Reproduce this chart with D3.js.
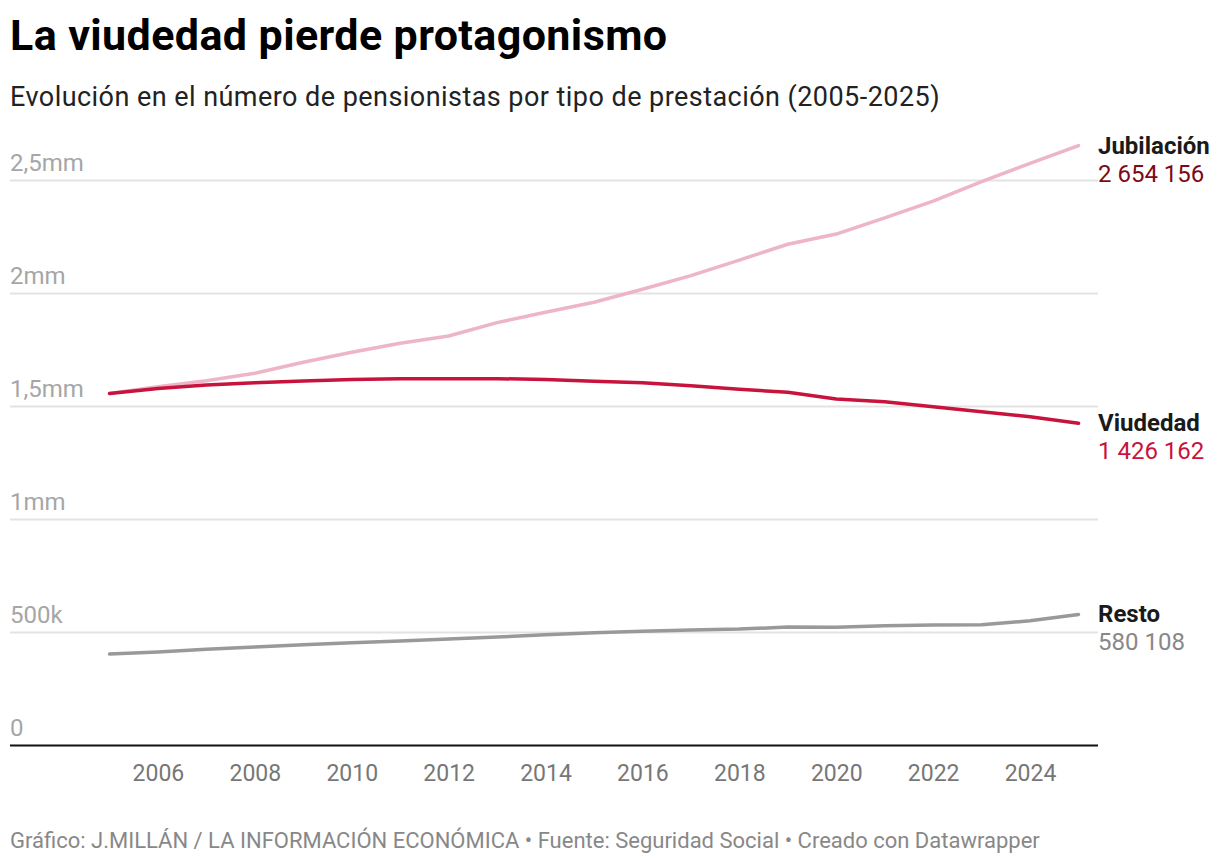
<!DOCTYPE html>
<html>
<head>
<meta charset="utf-8">
<script src="https://cdn.jsdelivr.net/npm/d3@7"></script>
<style>
  body { margin: 0; background: #fff; font-family: Roboto, sans-serif; }
  .title { font-weight: 700; fill: #000; }
  .grid line { stroke: #e3e3e3; stroke-width: 2px; }
  .ylab { fill: #a6a6a6; }
  .xaxis text { fill: #777; }
  .xaxis path, .xaxis line { display: none; }
</style>
</head>
<body>
<div id="chart"></div>
<script>
/**
 * Data
 */
// years on the x axis
var years = [2005, 2006, 2007, 2008, 2009, 2010, 2011, 2012, 2013, 2014, 2015,
  2016, 2017, 2018, 2019, 2020, 2021, 2022, 2023, 2024, 2025];
// pensionistas de jubilación
var jubilacion = [1558000, 1588000, 1614000, 1647000, 1696000, 1740000, 1780000, 1812000, 1871000, 1917000, 1961000,
  2019000, 2079000, 2148000, 2218000, 2263000, 2335000, 2409000, 2495000, 2576000, 2654156];
// pensionistas de viudedad
var viudedad = [1558000, 1580000, 1595000, 1605000, 1613000, 1619000, 1623000, 1623000, 1623000, 1620000, 1612000,
  1605000, 1592000, 1576000, 1563000, 1533000, 1521000, 1499000, 1477000, 1455000, 1426162];
// resto de prestaciones
var resto = [405000, 414000, 426000, 436000, 446000, 455000, 462000, 471000, 480000, 490000, 499000,
  505000, 511000, 515000, 524000, 523000, 530000, 533000, 534000, 552000, 580108];
// y axis ticks and labels
var yTicks = [0, 500000, 1000000, 1500000, 2000000, 2500000];
var yTickLabels = ["0", "500k", "1mm", "1,5mm", "2mm", "2,5mm"];
// x axis ticks
var xTicks = [2006, 2008, 2010, 2012, 2014, 2016, 2018, 2020, 2022, 2024];
// series names and end labels
var seriesNames = ["Jubilación", "Viudedad", "Resto"];
var seriesLabels = ["2 654 156", "1 426 162", "580 108"];

/**
 * Chart setup
 */
var svgWidth = 1220;
var svgHeight = 862;

var svg = d3.select("#chart")
  .append("svg")
  .attr("width", svgWidth)
  .attr("height", svgHeight);

// title and subtitle
svg.append("text")
  .attr("class", "title")
  .attr("x", 10)
  .attr("y", 50)
  .style("font-size", "43px")
  .style("letter-spacing", "0.4px")
  .text("La viudedad pierde protagonismo");

svg.append("text")
  .attr("x", 10)
  .attr("y", 106)
  .style("font-size", "27px")
  .style("letter-spacing", "0.45px")
  .style("fill", "#222")
  .text("Evolución en el número de pensionistas por tipo de prestación (2005-2025)");

// scales
var xScale = d3.scaleLinear()
  .domain([2005, 2025])
  .range([109.5, 1078.5]);

var yScale = d3.scaleLinear()
  .domain([0, 2500000])
  .range([745.5, 180.5]);

// gridlines
var grid = svg.append("g").attr("class", "grid");
grid.selectAll("line")
  .data(yTicks.filter(d => d > 0))
  .enter().append("line")
  .attr("x1", 10)
  .attr("x2", 1098)
  .attr("y1", d => yScale(d))
  .attr("y2", d => yScale(d));

// y labels sit above the gridlines
svg.selectAll(".ylab")
  .data(yTicks)
  .enter().append("text")
  .attr("class", "ylab")
  .attr("x", 10)
  .attr("y", d => yScale(d) - 10)
  .style("font-size", "24px")
  .text((d, i) => yTickLabels[i]);

// x axis
var xAxis = d3.axisBottom(xScale)
  .tickValues(xTicks)
  .tickFormat(d3.format("d"))
  .tickSize(0)
  .tickPadding(19);

var xAxisGroup = svg.append("g")
  .attr("class", "xaxis")
  .attr("transform", `translate(0, ${yScale(0)})`)
  .call(xAxis);
xAxisGroup.selectAll("text")
  .style("font-size", "23px")
  .style("font-family", "Roboto, sans-serif");

// baseline
svg.append("line")
  .attr("x1", 10)
  .attr("x2", 1098)
  .attr("y1", yScale(0))
  .attr("y2", yScale(0))
  .attr("stroke", "#111")
  .attr("stroke-width", 2);

/**
 * Lines
 */
var lineGen = d3.line()
  .x((d, i) => xScale(years[i]))
  .y(d => yScale(d));

var seriesData = [jubilacion, viudedad, resto];
var lineColors = ["#edb5c7", "#c8133d", "#999999"];
var valueColors = ["#7d0a16", "#c8133d", "#888888"];

// draw lines bottom-up so viudedad sits over jubilación
[2, 0, 1].forEach(ix => {
  svg.append("path")
    .datum(seriesData[ix])
    .attr("d", lineGen)
    .attr("fill", "none")
    .attr("stroke", lineColors[ix])
    .attr("stroke-width", 3.5)
    .attr("stroke-linecap", "round")
    .attr("stroke-linejoin", "round");
});

// end labels
seriesData.forEach((series, ix) => {
  var endY = yScale(series[series.length - 1]);
  svg.append("text")
    .attr("x", 1098)
    .attr("y", endY + 8)
    .style("font-size", "24px")
    .style("font-weight", 700)
    .style("fill", "#1a1a1a")
    .text(seriesNames[ix]);
  svg.append("text")
    .attr("x", 1098)
    .attr("y", endY + 36)
    .style("font-size", "24px")
    .style("fill", valueColors[ix])
    .text(seriesLabels[ix]);
});

// footer
svg.append("text")
  .attr("x", 10)
  .attr("y", 848)
  .style("font-size", "22px")
  .style("fill", "#888")
  .text("Gráfico: J.MILLÁN / LA INFORMACIÓN ECONÓMICA • Fuente: Seguridad Social • Creado con Datawrapper");
</script>
</body>
</html>
